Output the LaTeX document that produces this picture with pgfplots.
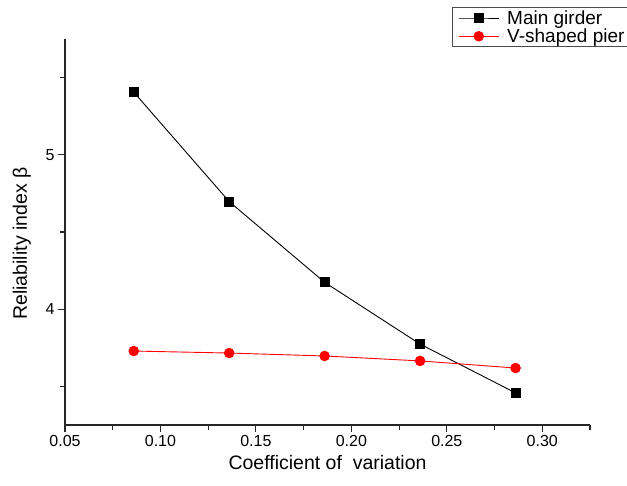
\documentclass[border=0pt]{standalone}
\usepackage{fontspec}
\setmainfont{Liberation Sans}
\usepackage{pgfplots}
\pgfplotsset{compat=1.18}
\begin{document}
\begin{tikzpicture}[x=1pt,y=1pt]
\clip (0,0) rectangle (627,486);
\begin{axis}[
  at={(65pt,61pt)}, anchor=south west,
  scale only axis, width=525pt, height=386pt,
  axis lines=left, axis line style={-, line width=1.2pt, black!85},
  xmin=0.05, xmax=0.325, ymin=3.25, ymax=5.75,
  xtick={0.05,0.10,...,0.31}, minor xtick={0.075,0.125,...,0.33},
  ytick={4,5}, minor ytick={3.5,4.5,5.5},
  tick align=outside, major tick length=7pt, minor tick length=5pt,
  tick style={line width=1.1pt, black!85},
  xticklabel style={/pgf/number format/.cd, fixed, fixed zerofill, precision=2},
  /pgf/number format/assume math mode=true,
  ticklabel style={font=\fontsize{16}{18}\selectfont},
  xlabel={Coefficient of\ \ variation},
  ylabel={Reliability index β},
  label style={font=\fontsize{19.5}{22}\selectfont},
  xlabel style={at={(axis description cs:0.5,-0.098)}, anchor=center},
  ylabel style={at={(axis description cs:-0.082,0.47)}, anchor=center},
  legend style={at={(axis description cs:0.737,1.083)}, anchor=north west,
    font=\fontsize{19}{21}\selectfont, draw=black!70, line width=0.8pt,
    inner xsep=6pt, inner ysep=1pt, row sep=-1pt},
  legend cell align=left,
  legend image code/.code={\draw[mark repeat=2,mark phase=2,#1]
    plot coordinates {(0pt,0pt) (20pt,0pt) (40pt,0pt)};
    \path (46pt,0pt);},
]
\addplot[black, line width=0.9pt, mark=square*, mark size=4.5pt,
  mark options={solid}] coordinates {
  (0.086,5.406) (0.136,4.697) (0.186,4.174) (0.236,3.774) (0.286,3.458)};
\addlegendentry{Main girder}
\addplot[red, line width=0.9pt, mark=*, mark size=4.8pt,
  mark options={solid}] coordinates {
  (0.086,3.729) (0.136,3.716) (0.186,3.697) (0.236,3.665) (0.286,3.619)};
\addlegendentry{V-shaped pier}
\end{axis}
\end{tikzpicture}
\end{document}
